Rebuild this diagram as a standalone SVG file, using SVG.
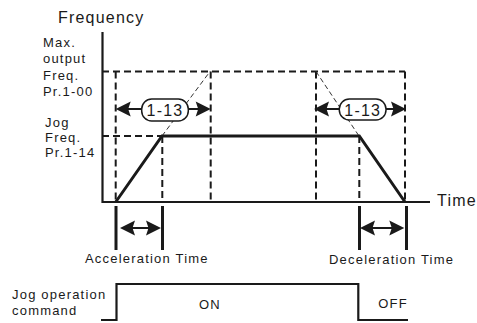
<svg xmlns="http://www.w3.org/2000/svg" width="477" height="323" viewBox="0 0 477 323">
<style>
text{font-family:"Liberation Sans",Arial,sans-serif;fill:#1a1a1a;letter-spacing:1.2px}
.lbl{font-size:13px}
.big{font-size:16px}
.axis{stroke:#1a1a1a;stroke-width:2.2;fill:none}
.dash{stroke:#1a1a1a;stroke-width:2;stroke-dasharray:7 4;fill:none}
.thin{stroke:#333;stroke-width:1;stroke-dasharray:5 3;fill:none}
.curve{stroke:#1a1a1a;stroke-width:3;fill:none;stroke-linejoin:miter}
.bar{stroke:#1a1a1a;stroke-width:3;fill:none}
.arr{stroke:#1a1a1a;stroke-width:2;fill:none}
.tag{fill:#fff;stroke:#1a1a1a;stroke-width:1.5}
</style>
<defs>
<marker id="ah" viewBox="-16 -8 17 16" refX="-5" refY="0" markerWidth="17" markerHeight="16" markerUnits="userSpaceOnUse" orient="auto-start-reverse">
<path d="M0,0 L-15,-7.5 L-12.5,0 L-15,7.5 Z" fill="#1a1a1a"/>
</marker>
</defs>
<rect width="477" height="323" fill="#fff"/>
<g id="labels">
<text class="big" x="58" y="23">Frequency</text>
<text class="lbl" x="43" y="47">Max.</text>
<text class="lbl" x="43" y="63">output</text>
<text class="lbl" x="43" y="80">Freq.</text>
<text class="lbl" x="43" y="96">Pr.1-00</text>
<text class="lbl" x="45" y="127">Jog</text>
<text class="lbl" x="45" y="142">Freq.</text>
<text class="lbl" x="45" y="157">Pr.1-14</text>
<text class="big" x="437" y="206">Time</text>
<text class="lbl" x="85" y="263">Acceleration Time</text>
<text class="lbl" x="329" y="264">Deceleration Time</text>
<text class="lbl" x="12" y="299">Jog operation</text>
<text class="lbl" x="12" y="315">command</text>
<text class="lbl" x="210" y="309" text-anchor="middle">ON</text>
<text class="lbl" x="393" y="308" text-anchor="middle">OFF</text>
</g>
<g id="connectors">
<path class="dash" d="M102,71.5 H405"/>
<path class="dash" d="M102,136 H162"/>
<path class="dash" d="M115.7,71.5 V202 M162.3,136 V202 M210.7,71.5 V202 M316,71.5 V202 M359.3,136 V202 M405,71.5 V202"/>
<path class="thin" d="M162,136 L210,71.5 M316,71.5 L359,136"/>
<path class="axis" d="M102.5,32 V202 H430"/>
<path class="curve" d="M115.7,202 L162,136 H359.3 L405,202"/>
<path class="arr" d="M120.7,109 H142" marker-start="url(#ah)"/>
<path class="arr" d="M188,109 H205.7" marker-end="url(#ah)"/>
<path class="arr" d="M319,109 H340" marker-start="url(#ah)"/>
<path class="arr" d="M386,109 H401" marker-end="url(#ah)"/>
<path class="bar" d="M116,206 V250 M162.5,206 V250 M359.5,206 V250 M406.5,206 V250"/>
<path class="arr" d="M125,228 H156" marker-start="url(#ah)" marker-end="url(#ah)"/>
<path class="arr" d="M365,228 H399.3" marker-start="url(#ah)" marker-end="url(#ah)"/>
<path class="axis" d="M101,320 H116.5 V284 H358.3 V320 H408"/>
</g>
<g id="tag1">
<rect class="tag" x="141.7" y="99" width="46.6" height="22" rx="10"/>
<text class="big" x="165" y="116" text-anchor="middle">1-13</text>
</g>
<g id="tag2">
<rect class="tag" x="339.3" y="99" width="46.7" height="21" rx="10"/>
<text class="big" x="362.7" y="115.5" text-anchor="middle">1-13</text>
</g>
</svg>
